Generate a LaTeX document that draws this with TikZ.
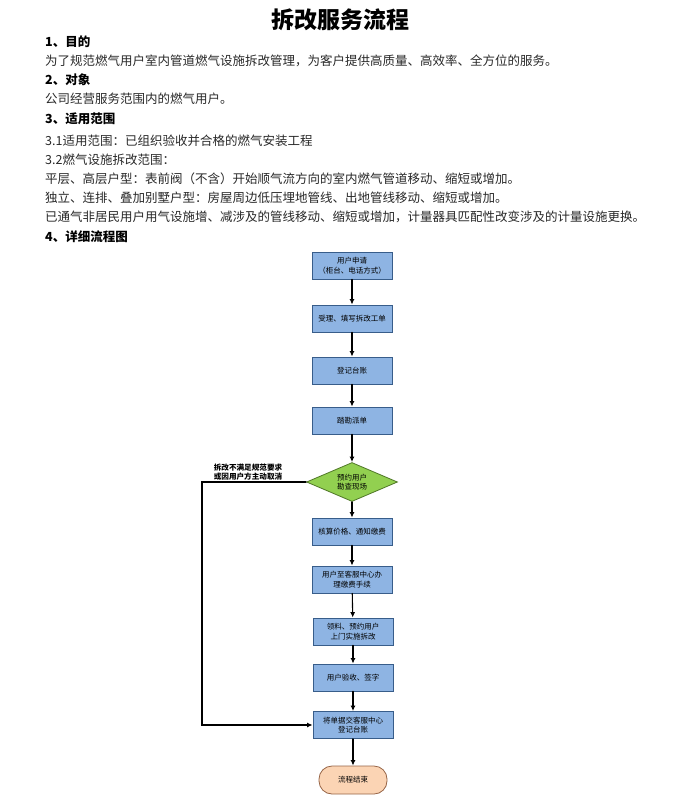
\documentclass[tikz,border=0pt]{standalone}
\usepackage{fontspec}
\setmainfont{Noto Sans CJK SC}
\usetikzlibrary{arrows.meta, shapes.geometric}

\definecolor{boxfill}{RGB}{142,180,227}
\definecolor{boxline}{RGB}{56,93,138}
\definecolor{decfill}{RGB}{146,208,80}
\definecolor{decline}{RGB}{80,120,40}
\definecolor{endfill}{RGB}{251,212,180}
\definecolor{endline}{RGB}{150,100,70}
\definecolor{textgray}{RGB}{40,40,40}

\begin{document}
\begin{tikzpicture}[%
        > = {Latex[length = 5.5pt, width = 5pt]},
        x = 1pt,
        y = -1pt,
        line cap = round,
        box/.style = {draw = boxline, fill = boxfill, line width = 0.8pt,
            minimum width = 80pt, minimum height = 27pt, inner sep = 0pt,
            align = center, font = \fontsize{7.5}{9.5}\selectfont},
        decision/.style = {diamond, draw = decline, fill = decfill, line width = 0.8pt,
            minimum width = 91pt, minimum height = 39pt, aspect = 2.3, inner sep = 0pt,
            align = center, font = \fontsize{7.5}{9.5}\selectfont},
        terminal/.style = {draw = endline, fill = endfill, line width = 0.8pt,
            rounded corners = 13pt, minimum width = 68pt, minimum height = 28pt,
            inner sep = 0pt, font = \fontsize{7.5}{9.5}\selectfont},
        body/.style = {anchor = west, inner sep = 0pt, text = textgray,
            font = \fontsize{12.5}{14}\selectfont},
        heading/.style = {anchor = west, inner sep = 0pt,
            font = \fontsize{12.5}{14}\selectfont\bfseries},
        flow/.style = {->, line width = 1.1pt}
    ]

        \useasboundingbox (0, 0) rectangle (679, 800);

        % Title.
        \node (title) at (340, 20) [font = \fontsize{23}{26}\selectfont\bfseries] {拆改服务流程};

        % Text above the chart.
        \node (head1) at (45, 42) [heading] {1、目的};
        \node (aim) at (45, 61) [body] {为了规范燃气用户室内管道燃气设施拆改管理，为客户提供高质量、高效率、全方位的服务。};
        \node (head2) at (45, 80) [heading] {2、对象};
        \node (object) at (45, 99) [body] {公司经营服务范围内的燃气用户。};
        \node (head3) at (45, 119) [heading] {3、适用范围};
        \node (scopea) at (45, 141) [body] {3.1适用范围：已组织验收并合格的燃气安装工程};
        \node (scopeb) at (45, 160) [body] {3.2燃气设施拆改范围：};
        \node (scopec) at (45, 179) [body] {平层、高层户型：表前阀（不含）开始顺气流方向的室内燃气管道移动、缩短或增加。};
        \node (scoped) at (45, 198) [body] {独立、连排、叠加别墅户型：房屋周边低压埋地管线、出地管线移动、缩短或增加。};
        \node (scopee) at (45, 217) [body] {已通气非居民用户用气设施增、减涉及的管线移动、缩短或增加，计量器具匹配性改变涉及的计量设施更换。};
        \node (head4) at (45, 237) [heading] {4、详细流程图};

        % Steps of the chart.
        \node (apply) at (352, 265.5) [box] {用户申请\\（柜台、电话方式）};
        \node (accept) at (352, 318.5) [box] {受理、填写拆改工单};
        \node (ledger) at (352, 370.5) [box] {登记台账};
        \node (survey) at (352, 420.5) [box] {踏勘派单};
        \node (visit) at (352, 482) [decision] {预约用户\\勘查现场};
        \node (price) at (352, 531.5) [box] {核算价格、通知缴费};
        \node (pay) at (352, 579.5) [box] {用户至客服中心办\\理缴费手续};
        \node (build) at (353, 631.5) [box] {领料、预约用户\\上门实施拆改};
        \node (check) at (353, 677.5) [box] {用户验收、签字};
        \node (submit) at (353, 725) [box] {将单据交客服中心\\登记台账};
        \node (finish) at (353, 780) [terminal] {流程结束};

        % Arrows down the chart.
        \draw[flow] (apply) to (accept);
        \draw[flow] (accept) to (ledger);
        \draw[flow] (ledger) to (survey);
        \draw[flow] (survey) to (visit);
        \draw[flow] (visit) to (price);
        \draw[flow] (price) to (pay);
        \draw[flow] (pay) to (build);
        \draw[flow] (build) to (check);
        \draw[flow] (check) to (submit);
        \draw[flow] (submit) to (finish);

        % Way round when the change is cancelled.
        \coordinate (turn) at (202, 482);
        \draw[flow] (visit.west) to (turn) |- (submit.west);
        \node (cancel) at (248, 472) [align = center, inner sep = 0pt,
            font = \fontsize{7.6}{9.5}\selectfont\bfseries] {拆改不满足规范要求\\或因用户方主动取消};
    \end{tikzpicture}
\end{document}
